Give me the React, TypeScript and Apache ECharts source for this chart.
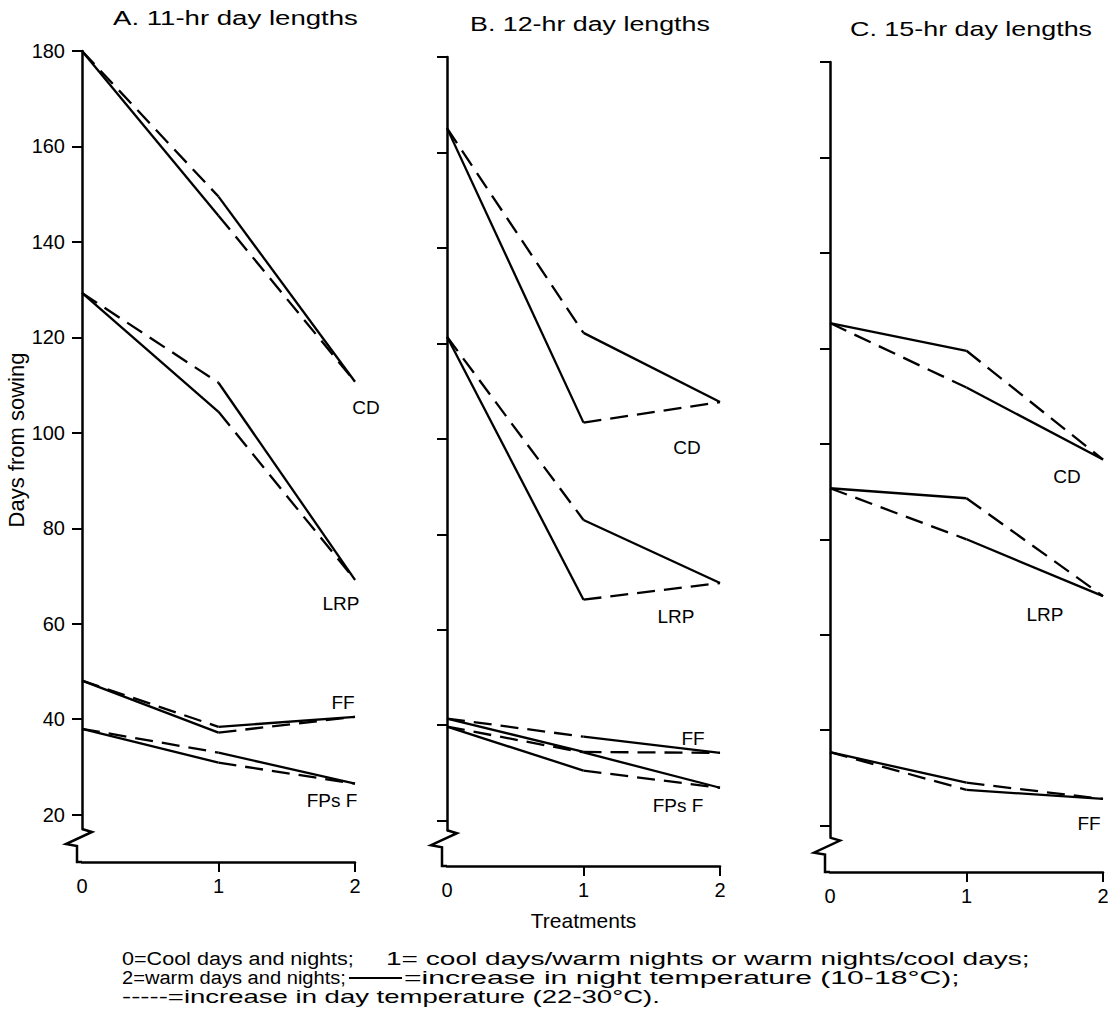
import React, { useEffect, useRef } from "react";
import * as echarts from "echarts";

// ---------- data ----------
const treatmentTicks = [1, 2];
const dayTicks = [20, 40, 60, 80, 100, 120, 140, 160, 180];
const panelTitles = ["A. 11-hr day lengths", "B. 12-hr day lengths", "C. 15-hr day lengths"];

// A. 11-hr day lengths
const traitsA = ["CD", "LRP", "FF", "FPs F"];
const startA = [180, 129.3, 48.1, 38.0];
const midNightFirstA = [145.5, 104.4, 37.2, 30.9]; // night raised first (solid), then day (dashed)
const midDayFirstA = [149.5, 110.5, 38.4, 33.0]; // day raised first (dashed), then night (solid)
const endA = [110.7, 69.2, 40.5, 26.5];

// B. 12-hr day lengths
const traitsB = ["CD", "LRP", "FF", "FPs F"];
const startB = [165.1, 121.4, 41.4, 39.7];
const midNightFirstB = [103.4, 66.3, 34.4, 30.5];
const midDayFirstB = [122.2, 83.0, 37.6, 34.3];
const endB = [107.7, 69.8, 34.2, 26.9];

// C. 15-hr day lengths
const traitsC = ["CD", "LRP", "FF"];
const startC = [125.3, 90.7, 35.4];
const midNightFirstC = [119.5, 88.6, 29.0];
const midDayFirstC = [111.8, 80.0, 27.5];
const endC = [96.7, 68.1, 25.6];

const footer1a = "0=Cool days and nights;";
const footer1b = "1= cool days/warm nights or warm nights/cool days;";
const footer2a = "2=warm days and nights;";
const footer2b = "=increase in night temperature (10-18°C);";
const footer3 = "-----=increase in day temperature (22-30°C).";

// ---------- layout ----------
const FAMILY = '"Liberation Sans", Arial, Helvetica, sans-serif';
const PX_PER_DAY = 4.773;
const PLOT_W = 273;
const PANELS = [
  { left: 82, top: 51, min: 17, axisY: 862, title: [113, 18, 245] },
  { left: 447, top: 57, min: 18, axisY: 866, title: [470, 24, 240] },
  { left: 830, top: 62, min: 17.5, axisY: 872, title: [850, 29, 242] },
];
const LABEL_POS = [
  [[366, 407], [341, 603], [343, 702], [332, 800]],
  [[687, 447], [676, 616], [693, 738], [678, 805]],
  [[1067, 476], [1045, 614], [1089, 823]],
];

function measure(text: string, size: number, weight: string) {
  const ctx = document.createElement("canvas").getContext("2d")!;
  ctx.font = `${weight} ${size}px "Liberation Sans"`;
  return ctx.measureText(text).width || 1;
}

function stretched(text: string, x: number, y: number, width: number, size: number, weight = "normal") {
  return {
    type: "text",
    x,
    y,
    scaleX: width / measure(text, size, weight),
    silent: true,
    style: {
      text,
      fontSize: size,
      fontFamily: '"Liberation Sans"',
      fontWeight: weight,
      fill: "#000",
      align: "left",
      verticalAlign: "middle",
    },
  };
}

function seg(gi: number, data: number[][], dashed: boolean) {
  return {
    type: "line",
    xAxisIndex: gi,
    yAxisIndex: gi,
    data,
    symbol: "none",
    silent: true,
    lineStyle: { color: "#000", width: 2.3, type: dashed ? [18, 9] : "solid", cap: "butt" },
  };
}

function panelSeries(gi: number, start: number[], midN: number[], midD: number[], end: number[]) {
  const out: any[] = [];
  start.forEach((s, i) => {
    out.push(seg(gi, [[0, s], [1, midN[i]]], false));
    out.push(seg(gi, [[1, midN[i]], [2, end[i]]], true));
    out.push(seg(gi, [[0, s], [1, midD[i]]], true));
    out.push(seg(gi, [[1, midD[i]], [2, end[i]]], false));
  });
  return out;
}

export default function App() {
  const ref = useRef<HTMLDivElement>(null);
  useEffect(() => {
    if (!ref.current) return;
    const chart = echarts.init(ref.current, null, { renderer: "svg" });

    const grids = PANELS.map((p) => ({
      left: p.left,
      top: p.top,
      width: PLOT_W,
      height: (180 - p.min) * PX_PER_DAY,
    }));

    const xAxes = PANELS.map((p, gi) => {
      const bottom = p.top + (180 - p.min) * PX_PER_DAY;
      return {
        gridIndex: gi,
        type: "value",
        min: 0,
        max: 2,
        interval: 1,
        offset: p.axisY - bottom,
        name: gi === 1 ? "Treatments" : "",
        nameLocation: "middle",
        nameGap: 44,
        nameTextStyle: { fontSize: 21, color: "#000", fontFamily: FAMILY },
        axisLine: { show: true, onZero: false, lineStyle: { color: "#000", width: 2.5 } },
        axisTick: { show: true, length: 10, customValues: treatmentTicks, lineStyle: { color: "#000", width: 2 } },
        axisLabel: { fontSize: 20, color: "#000", fontFamily: FAMILY, margin: 14 },
        splitLine: { show: false },
      };
    });

    const yAxes = PANELS.map((p, gi) => ({
      gridIndex: gi,
      type: "value",
      min: p.min,
      max: 180,
      name: gi === 0 ? "Days from sowing" : "",
      nameLocation: "middle",
      nameRotate: 90,
      nameGap: 52,
      nameTextStyle: { fontSize: 22, color: "#000", fontFamily: FAMILY },
      axisLine: { show: true, onZero: false, lineStyle: { color: "#000", width: 2.5 } },
      axisTick: { show: true, length: 10, customValues: dayTicks, lineStyle: { color: "#000", width: 2 } },
      axisLabel: { show: gi === 0, customValues: dayTicks, fontSize: 20, color: "#000", fontFamily: FAMILY, margin: 17 },
      splitLine: { show: false },
    }));

    const series = [
      ...panelSeries(0, startA, midNightFirstA, midDayFirstA, endA),
      ...panelSeries(1, startB, midNightFirstB, midDayFirstB, endB),
      ...panelSeries(2, startC, midNightFirstC, midDayFirstC, endC),
    ];

    const elements: any[] = [];
    PANELS.forEach((p) => {
      const L = p.left;
      const B = p.top + (180 - p.min) * PX_PER_DAY;
      const X = p.axisY;
      elements.push({
        type: "polyline",
        silent: true,
        shape: { points: [[L, B], [L + 10, B + 3], [L - 16, B + 15], [L - 5, B + 17], [L - 5, X], [L, X]] },
        style: { stroke: "#000", lineWidth: 2.5, fill: null },
      });
    });
    PANELS.forEach((p, gi) => {
      const [x, y, w] = p.title;
      elements.push(stretched(panelTitles[gi], x, y, w, 20, "normal"));
    });
    [traitsA, traitsB, traitsC].forEach((traits, gi) => {
      traits.forEach((t, i) => {
        const [x, y] = LABEL_POS[gi][i];
        elements.push({
          type: "text",
          x,
          y,
          silent: true,
          style: { text: t, fontSize: 19, fontFamily: '"Liberation Sans"', fill: "#000", align: "center", verticalAlign: "middle" },
        });
      });
    });
    elements.push(stretched(footer1a, 122, 958, 232, 19));
    elements.push(stretched(footer1b, 386, 958, 644, 19));
    elements.push(stretched(footer2a, 122, 977, 224, 19));
    elements.push({
      type: "line",
      silent: true,
      shape: { x1: 349, y1: 978, x2: 402, y2: 978 },
      style: { stroke: "#000", lineWidth: 2 },
    });
    elements.push(stretched(footer2b, 404, 977, 556, 19));
    elements.push(stretched(footer3, 122, 997, 538, 19));

    chart.setOption({
      animation: false,
      backgroundColor: "#fff",
      grid: grids,
      xAxis: xAxes,
      yAxis: yAxes,
      series,
      graphic: { elements },
    });
    return () => chart.dispose();
  }, []);

  return <div ref={ref} style={{ position: "absolute", left: 0, top: 0, width: 1119, height: 1032 }} />;
}
